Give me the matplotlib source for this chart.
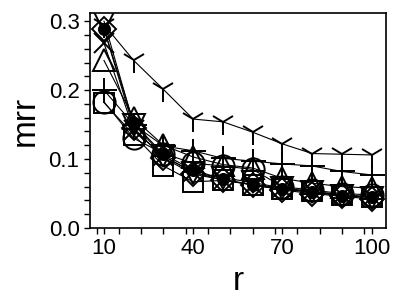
import matplotlib
matplotlib.use("Agg")
import matplotlib.pyplot as plt
from matplotlib.ticker import MultipleLocator, FormatStrFormatter

plt.rcParams['font.family'] = ['Liberation Sans', 'DejaVu Sans']

r = [10, 20, 30, 40, 50, 60, 70, 80, 90, 100]

mrr_tri = [0.295, 0.243, 0.201, 0.158, 0.154, 0.139, 0.122, 0.108, 0.107, 0.106]
mrr_plus = [0.200, 0.150, 0.119, 0.112, 0.101, 0.097, 0.093, 0.090, 0.082, 0.077]
mrr_circle = [0.183, 0.130, 0.108, 0.094, 0.090, 0.085, 0.060, 0.055, 0.050, 0.048]
mrr_square = [0.182, 0.135, 0.090, 0.067, 0.069, 0.063, 0.056, 0.053, 0.048, 0.045]
mrr_tri_up = [0.243, 0.159, 0.120, 0.103, 0.092, 0.087, 0.072, 0.065, 0.060, 0.058]
mrr_tri_down = [0.300, 0.150, 0.105, 0.080, 0.073, 0.066, 0.058, 0.052, 0.047, 0.044]
mrr_diamond = [0.289, 0.145, 0.102, 0.078, 0.070, 0.063, 0.055, 0.050, 0.046, 0.042]
mrr_x = [0.268, 0.142, 0.104, 0.081, 0.069, 0.063, 0.058, 0.053, 0.048, 0.045]
mrr_dot = [0.289, 0.152, 0.107, 0.084, 0.071, 0.062, 0.056, 0.052, 0.047, 0.045]

series = [
    (mrr_tri, '1', 18, 'none'),
    (mrr_plus, '+', 18, 'none'),
    (mrr_circle, 'o', 16, 'none'),
    (mrr_square, 's', 15, 'none'),
    (mrr_tri_up, '^', 16, 'none'),
    (mrr_tri_down, 'v', 16, 'none'),
    (mrr_diamond, 'D', 12, 'none'),
    (mrr_x, 'x', 14, 'none'),
    (mrr_dot, 'o', 8, 'black'),
]

fig = plt.figure(figsize=(3.99, 3.0), dpi=100)
ax = fig.add_axes([0.2256, 0.24, 0.7414, 0.717])

for vals, m, ms, fc in series:
    ax.plot(r, vals, color='black', lw=0.8, marker=m, markersize=ms,
            markerfacecolor=fc, markeredgecolor='black', markeredgewidth=1.4)

ax.set_xlim(5.3, 104.8)
ax.set_ylim(0, 0.312)
ax.xaxis.set_minor_locator(MultipleLocator(7.5))
ax.yaxis.set_major_locator(MultipleLocator(0.1))
ax.yaxis.set_minor_locator(MultipleLocator(0.02))
ax.set_xticks([10, 40, 70, 100])
ax.yaxis.set_major_formatter(FormatStrFormatter('%.1f'))
ax.tick_params(which='both', direction='out', length=4, width=1, labelsize=16)
ax.set_xlabel('r', fontsize=24, labelpad=5)
ax.set_ylabel('mrr', fontsize=24, labelpad=6)
for s in ax.spines.values():
    s.set_linewidth(1.2)

fig.savefig('out.png', dpi=100)
